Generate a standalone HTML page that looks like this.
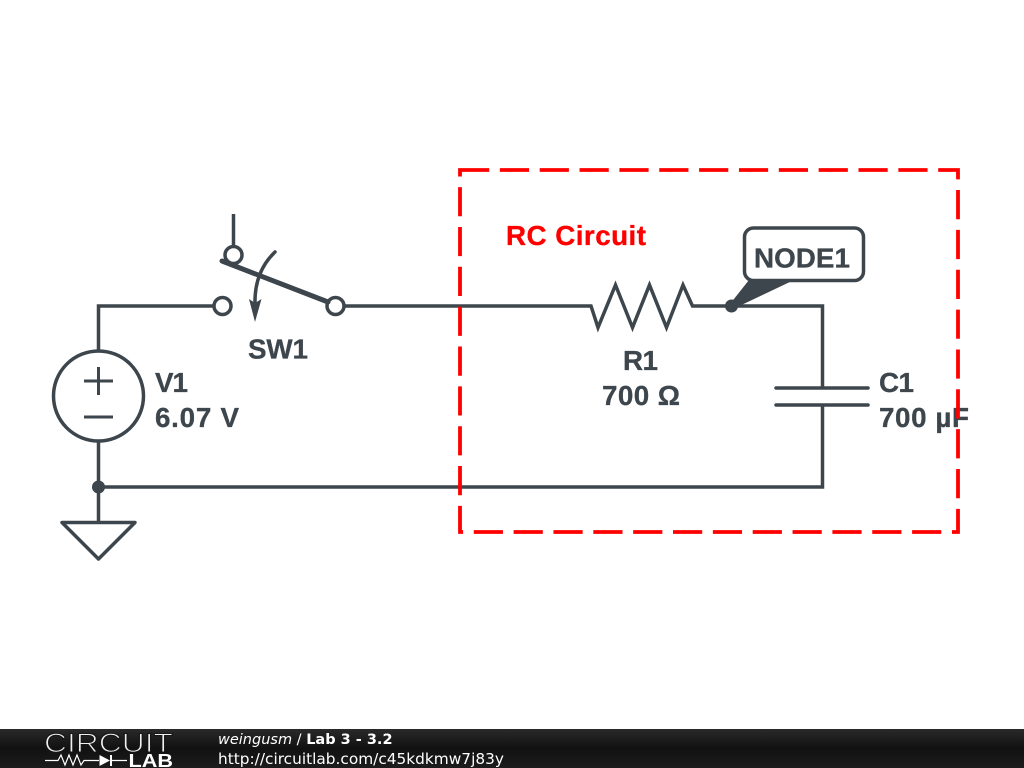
<!DOCTYPE html>
<html>
<head>
<meta charset="utf-8">
<style>
html,body{margin:0;padding:0;background:#fff;width:1024px;height:768px;overflow:hidden}
svg{display:block}
.t{font-family:"Liberation Sans",sans-serif;font-weight:bold;font-size:27.800px;fill:#3d464c;stroke:#3d464c;stroke-width:0.3px}
.f{font-family:"DejaVu Sans",sans-serif;font-size:14.5px;fill:#fff}
</style>
</head>
<body>
<svg width="1024" height="768" viewBox="0 0 1024 768" xmlns="http://www.w3.org/2000/svg">
<defs>
<linearGradient id="g" x1="0" y1="0" x2="0" y2="1">
<stop offset="0" stop-color="#2a2a2a"/>
<stop offset="0.5" stop-color="#111"/>
<stop offset="1" stop-color="#1c1c1c"/>
</linearGradient>
</defs>
<rect width="1024" height="768" fill="#fff"/>

<!-- wires -->
<g fill="none" stroke="#3d464c" stroke-width="3.500" stroke-linejoin="miter">
<path d="M98.500 351V306H214"/>
<path d="M345 306H591L598 327.500L615.500 285L632.500 327.500L649.500 285L666.500 327.500L683 285L692.500 306H822.500V387"/>
<path d="M822.500 405V487H98"/>
<path d="M98.500 441V522"/>
<path d="M776 388H868" stroke-linecap="round"/>
<path d="M776 405H868" stroke-linecap="round"/>
<circle cx="98.500" cy="396" r="45"/>
<path d="M84 381H113M98.500 367V395M84 417H113" stroke-width="3"/>
<path d="M62 522.500H135L98.500 559Z" stroke-linejoin="round"/>
<!-- switch -->
<path d="M233.500 214V246"/>
<circle cx="233.500" cy="255" r="8.500"/>
<circle cx="222.500" cy="306" r="8.500"/>
<circle cx="335.500" cy="306" r="8.500"/>
<path d="M222 261L328 302" stroke-width="5" stroke-linecap="round"/>
<path d="M275 252Q254 272 255 305" stroke-linecap="round"/>
</g>
<path d="M249 299L255 322L261.500 299L255 303Z" fill="#3d464c"/>

<!-- junctions -->
<circle cx="98.500" cy="487" r="6.500" fill="#3d464c"/>
<circle cx="731.500" cy="306" r="6.500" fill="#3d464c"/>

<!-- node label -->
<path d="M730 304L749 280H794L733 309Z" fill="#3d464c"/>
<rect x="744.500" y="228" width="119" height="52.500" rx="9" ry="9" fill="#fff" stroke="#3d464c" stroke-width="3.500"/>
<text class="t" x="754" y="267.500" textLength="96">NODE1</text>

<!-- labels -->
<text class="t" x="248" y="358.500" textLength="60">SW1</text>
<text class="t" x="155" y="392" textLength="33">V1</text>
<text class="t" x="155" y="427" textLength="84">6.07 V</text>
<text class="t" x="623" y="370" textLength="35">R1</text>
<text class="t" x="602" y="405" textLength="78">700 Ω</text>
<text class="t" x="879" y="392" textLength="35">C1</text>
<text class="t" x="879" y="427" textLength="90">700 µF</text>
<text class="t" x="506" y="245" textLength="140" style="fill:#ff0000;stroke:#ff0000">RC Circuit</text>

<!-- dashed box -->
<path d="M460 170H958V532H460Z" fill="none" stroke="#ff0000" stroke-width="3.800" stroke-dasharray="29.200 10.650"/>

<!-- footer -->
<rect x="0" y="729" width="1024" height="39" fill="url(#g)"/>
<text x="44" y="752" font-family="'Liberation Sans',sans-serif" font-size="26.500" fill="#f0f0f0" stroke="#171717" stroke-width="1.100" textLength="129" lengthAdjust="spacingAndGlyphs">CIRCUIT</text>
<g fill="none" stroke="#fff" stroke-width="1.200">
<path d="M45 760.500H58L61 755L65 765L69 755L73 765L77 755L81 765L84 760.500H99M111 760.500H127"/>
<path d="M111 755V766" stroke-width="2"/>
</g>
<path d="M99.500 755V766L110 760.500Z" fill="#fff"/>
<text x="128.500" y="767" font-family="'Liberation Sans',sans-serif" font-weight="bold" font-size="18" fill="#fff" textLength="44.500" lengthAdjust="spacingAndGlyphs">LAB</text>
<text class="f" x="218" y="744"><tspan font-style="italic">weingusm</tspan> / <tspan font-weight="bold">Lab 3 - 3.2</tspan></text>
<text class="f" x="218" y="764" style="font-size:15.350px">http://circuitlab.com/c45kdkmw7j83y</text>
</svg>
</body>
</html>
